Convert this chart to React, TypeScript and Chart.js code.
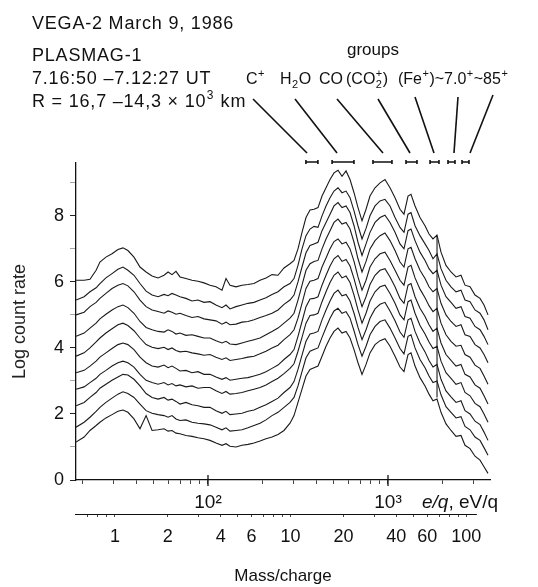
import React, { useEffect, useRef } from 'react';
import { Chart, registerables } from 'chart.js';
Chart.register(...registerables);

const FONT = '"Liberation Sans", Arial, Helvetica, sans-serif';

// e/q sample positions (eV/q)
const energy = [18.5, 20.5, 22.1, 23.9, 25.1, 27.1, 29.3, 31.6, 33.7, 35.9, 38.8, 41.9, 45.3, 48.9, 52.8, 57.0, 60.0, 63.1, 66.4, 69.9, 75.4, 81.5, 88.0, 95.0, 102.6, 110.8, 119.6, 125.9, 132.5, 143.1, 154.5, 166.8, 180.1, 194.5, 210.0, 226.8, 244.9, 264.4, 285.5, 300.5, 316.2, 332.9, 350.3, 368.7, 388.1, 408.5, 430.0, 452.6, 476.4, 501.2, 527.6, 555.3, 584.6, 615.2, 647.5, 681.3, 717.3, 755.1, 794.3, 847, 903, 962, 1026, 1094, 1166, 1227, 1292, 1342, 1413, 1506, 1606, 1690, 1778, 1872, 1970, 2100, 2239, 2387, 2544, 2678, 2856, 3043, 3245, 3415, 3594];

// Log count rate, spectra stacked from top to bottom
const spectrum1 = [6.05,6.05,6.08,6.35,6.6,6.75,6.85,6.98,7.03,6.95, 6.75,6.45,6.3,6.18,6.12,6.2,6.3,6.22,6.32,6.15, 6.1,6.05,6.02,5.97,5.9,5.85,5.75,6.1,5.9,5.85, 5.9,5.92,5.95,6.05,6.12,6.22,6.2,6.42,6.55,6.65, 7.0,7.5,7.95,8.18,8.2,8.25,8.6,8.85,9.1,9.3, 9.38,9.2,9.36,9.1,8.7,8.25,7.85,8.2,8.6,8.85, 9.0,9.1,8.85,8.55,8.2,8.05,8.6,8.65,8.3,7.95, 7.7,7.45,7.3,7.42,6.9,6.5,6.3,6.15,6.2,5.9, 5.85,5.6,5.5,5.3,5.0];
const spectrum2 = [5.45,5.55,5.7,5.82,5.95,6.12,6.25,6.38,6.45,6.35, 6.2,5.95,5.72,5.6,5.55,5.62,5.58,5.65,5.6,5.55, 5.5,5.42,5.45,5.38,5.4,5.3,5.22,5.3,5.18,5.25, 5.3,5.35,5.38,5.45,5.52,5.62,5.7,5.85,5.95,6.1, 6.5,7.0,7.4,7.6,7.68,7.65,8.0,8.3,8.55,8.75, 8.85,8.7,8.75,8.55,8.15,7.7,7.3,7.62,8.0,8.3, 8.45,8.5,8.3,7.95,7.65,7.5,8.05,8.1,7.7,7.4, 7.15,6.95,6.7,6.85,6.4,6.05,5.85,5.7,5.75,5.45, 5.4,5.15,5.05,4.85,4.55];
const spectrum3 = [5.0,5.08,5.25,5.38,5.5,5.65,5.8,5.9,5.95,5.88, 5.7,5.45,5.25,5.15,5.1,5.05,5.12,5.08,5.02,5.05, 4.98,4.92,4.95,4.88,4.85,4.82,4.72,4.78,4.7,4.72, 4.78,4.8,4.85,4.92,4.98,5.05,5.15,5.32,5.45,5.6, 6.0,6.45,6.88,7.1,7.15,7.2,7.55,7.8,8.05,8.3, 8.4,8.25,8.3,8.1,7.7,7.2,6.8,7.15,7.5,7.8, 7.95,8.02,7.8,7.5,7.15,7.0,7.55,7.6,7.25,6.9, 6.65,6.4,6.25,6.35,5.9,5.55,5.38,5.2,5.25,4.95, 4.9,4.65,4.55,4.35,4.1];
const spectrum4 = [4.35,4.45,4.6,4.75,4.88,5.02,5.15,5.25,5.3,5.22, 5.05,4.8,4.62,4.55,4.5,4.48,4.55,4.5,4.42,4.45, 4.38,4.4,4.35,4.3,4.3,4.22,4.15,4.2,4.12,4.1, 4.15,4.2,4.25,4.3,4.4,4.5,4.6,4.75,4.9,5.05, 5.45,5.9,6.35,6.55,6.62,6.65,7.0,7.3,7.55,7.8, 7.9,7.75,7.8,7.6,7.2,6.7,6.3,6.62,7.0,7.25, 7.4,7.48,7.25,6.95,6.6,6.45,7.0,7.05,6.7,6.35, 6.1,5.85,5.7,5.8,5.35,5.0,4.8,4.65,4.7,4.4, 4.35,4.1,4.0,3.8,3.55];
const spectrum5 = [3.75,3.85,4.0,4.18,4.3,4.45,4.58,4.7,4.75,4.68, 4.52,4.3,4.1,4.02,3.98,4.02,3.95,4.0,3.92,3.88, 3.9,3.85,3.82,3.78,3.8,3.72,3.65,3.7,3.62,3.65, 3.68,3.72,3.75,3.82,3.9,4.0,4.08,4.25,4.4,4.55, 4.9,5.35,5.8,6.02,6.05,6.1,6.45,6.72,7.0,7.22, 7.3,7.15,7.2,7.0,6.62,6.15,5.75,6.05,6.45,6.7, 6.85,6.9,6.65,6.35,6.05,5.9,6.45,6.5,6.12,5.78, 5.52,5.28,5.1,5.2,4.75,4.4,4.2,4.05,4.08,3.8, 3.72,3.48,3.38,3.15,2.9];
const spectrum6 = [3.25,3.32,3.45,3.6,3.72,3.85,3.98,4.1,4.15,4.1, 3.95,3.72,3.55,3.45,3.42,3.48,3.4,3.45,3.38,3.3, 3.32,3.25,3.28,3.2,3.2,3.12,3.05,3.1,3.02,3.05, 3.08,3.1,3.15,3.2,3.28,3.38,3.48,3.65,3.8,3.95, 4.35,4.8,5.25,5.48,5.5,5.55,5.9,6.2,6.48,6.7, 6.8,6.62,6.68,6.48,6.1,5.65,5.25,5.55,5.92,6.2, 6.35,6.4,6.15,5.85,5.5,5.35,5.9,5.95,5.55,5.2, 4.95,4.7,4.5,4.6,4.15,3.8,3.62,3.45,3.5,3.2, 3.12,2.88,2.78,2.55,2.3];
const spectrum7 = [2.75,2.82,2.95,3.08,3.2,3.32,3.45,3.55,3.6,3.55, 3.42,3.2,3.02,2.95,2.9,2.95,2.88,2.92,2.85,2.88, 2.82,2.85,2.78,2.8,2.8,2.7,2.62,2.68,2.6,2.62, 2.65,2.7,2.75,2.8,2.88,2.98,3.08,3.22,3.38,3.52, 3.9,4.32,4.75,4.98,5.0,5.05,5.4,5.7,5.98,6.2, 6.3,6.12,6.18,5.98,5.6,5.15,4.75,5.05,5.42,5.7, 5.85,5.9,5.65,5.35,5.0,4.85,5.4,5.45,5.05,4.68, 4.42,4.18,3.98,4.05,3.6,3.25,3.08,2.9,2.95,2.65, 2.55,2.32,2.22,2.0,1.75];
const spectrum8 = [2.25,2.35,2.5,2.65,2.78,2.9,3.02,3.12,3.2,3.18, 3.05,2.85,2.62,2.5,2.45,2.5,2.42,2.45,2.38,2.3, 2.35,2.28,2.25,2.2,2.2,2.1,2.02,2.08,1.98,2.0, 2.02,2.08,2.12,2.2,2.28,2.38,2.48,2.65,2.8,2.98, 3.35,3.78,4.2,4.42,4.45,4.5,4.85,5.15,5.42,5.65, 5.75,5.58,5.62,5.42,5.05,4.62,4.25,4.55,4.9,5.18, 5.32,5.38,5.12,4.82,4.48,4.32,4.85,4.9,4.5,4.15, 3.88,3.62,3.42,3.5,3.05,2.7,2.52,2.35,2.4,2.1, 2.0,1.78,1.68,1.45,1.2];
const spectrum9 = [1.6,1.75,1.9,2.08,2.2,2.35,2.48,2.6,2.67,2.62, 2.5,2.3,2.1,2.02,1.98,1.95,1.9,1.95,1.85,1.8, 1.82,1.75,1.72,1.7,1.67,1.6,1.52,1.58,1.48,1.5, 1.52,1.58,1.65,1.72,1.82,1.95,2.05,2.2,2.35,2.5, 2.85,3.28,3.7,3.9,3.95,4.0,4.32,4.62,4.9,5.12, 5.2,5.05,5.1,4.9,4.52,4.1,3.75,4.05,4.4,4.65, 4.8,4.85,4.6,4.3,3.98,3.82,4.35,4.4,4.0,3.65, 3.4,3.15,2.95,3.0,2.58,2.22,2.05,1.88,1.92,1.62, 1.52,1.3,1.2,0.98,0.75];
const spectrum10 = [1.15,1.3,1.5,1.65,1.75,1.88,1.98,2.08,2.12,2.05, 1.85,1.55,1.95,1.5,1.52,1.55,1.48,1.5,1.42,1.4, 1.35,1.32,1.28,1.25,1.2,1.12,1.05,1.1,1.02,1.0, 1.05,1.08,1.12,1.18,1.25,1.3,1.38,1.5,1.72,1.95, 2.35,2.75,3.15,3.35,3.4,3.45,3.75,4.05,4.3,4.5, 4.6,4.45,4.5,4.3,3.95,3.55,3.2,3.5,3.85,4.1, 4.22,4.28,4.05,3.75,3.42,3.28,3.8,3.85,3.45,3.1, 2.85,2.6,2.4,2.45,2.05,1.7,1.5,1.32,1.35,1.05, 0.95,0.72,0.6,0.4,0.2];
const spectra = [spectrum1, spectrum2, spectrum3, spectrum4, spectrum5, spectrum6, spectrum7, spectrum8, spectrum9, spectrum10];

// vertical pen stroke near 1.9 keV
const strokeEnergy = [1872, 1872];
const strokeValues = [7.36, 2.5];

// axes
const yTicks = [0, 1, 2, 3, 4, 5, 6, 7, 8, 9];
const yLabels = ['0', '', '2', '', '4', '', '6', '', '8', ''];
const eTicks = [20, 30, 40, 50, 60, 70, 80, 90, 100, 200, 300, 400, 500, 600, 700, 800, 900, 1000, 2000, 3000];
const eMajor = [100, 1000];
const eLabels = ['10\u00B2', '10\u00B3'];
const mTicks = [0.7, 0.8, 0.9, 1, 2, 3, 4, 5, 6, 7, 8, 9, 10, 20, 30, 40, 50, 60, 70, 80, 90, 100];
const mLabeled = [1, 2, 4, 6, 10, 20, 40, 60, 100];
const mAxisEnd = 115;

// ion groups (e/q ranges of bars, and where the pointer lines meet them)
const groupLow = [350, 489, 825, 1259, 1712, 2154, 2577];
const groupHigh = [408, 647, 1052, 1449, 1920, 2356, 2818];
const groupPointer = [355, 521, 938, 1325, 1801, 2326, 2856];

type Run = [string, string];

function drawRuns(ctx: CanvasRenderingContext2D, x: number, base: number, runs: Run[], size: number) {
  let cx = x;
  for (const [txt, mode] of runs) {
    if (mode === 'n') {
      ctx.font = `${size}px ${FONT}`;
      ctx.fillText(txt, cx, base);
      cx += ctx.measureText(txt).width;
    } else if (mode === 'sup') {
      ctx.font = `${Math.round(size * 0.68)}px ${FONT}`;
      ctx.fillText(txt, cx + 0.5, base - size * 0.42);
      cx += ctx.measureText(txt).width + 1;
    } else if (mode === 'sub') {
      ctx.font = `${Math.round(size * 0.68)}px ${FONT}`;
      ctx.fillText(txt, cx + 0.5, base + size * 0.28);
      cx += ctx.measureText(txt).width + 1;
    } else if (mode === 'supsub') {
      const [sp, sb] = txt.split('|');
      ctx.font = `${Math.round(size * 0.68)}px ${FONT}`;
      ctx.fillText(sp, cx + 0.5, base - size * 0.42);
      ctx.fillText(sb, cx + 0.5, base + size * 0.28);
      cx += Math.max(ctx.measureText(sp).width, ctx.measureText(sb).width) + 1;
    } else if (mode === 'i') {
      ctx.font = `italic ${size}px ${FONT}`;
      ctx.fillText(txt, cx, base);
      cx += ctx.measureText(txt).width;
    }
  }
}

const decorPlugin = {
  id: 'decor',
  afterDraw(chart: any) {
    const { ctx, chartArea, scales } = chart;
    const xs = scales.x;
    const ms = scales.x2;
    ctx.save();
    ctx.fillStyle = '#111';
    ctx.strokeStyle = '#111';
    ctx.textAlign = 'left';
    ctx.textBaseline = 'alphabetic';

    // header block
    (ctx as any).letterSpacing = '0.8px';
    drawRuns(ctx, 32, 29, [['VEGA-2 March 9, 1986', 'n']], 18);
    drawRuns(ctx, 32, 61, [['PLASMAG-1', 'n']], 18);
    drawRuns(ctx, 32, 84, [['7.16:50 \u20137.12:27 UT', 'n']], 18);
    drawRuns(ctx, 32, 107, [['R = 16,7 \u201314,3 \u00D7 10', 'n'], ['3', 'sup'], [' km', 'n']], 18);
    (ctx as any).letterSpacing = '0px';

    // groups
    drawRuns(ctx, 347, 55, [['groups', 'n']], 17);
    drawRuns(ctx, 246, 84, [['C', 'n'], ['+', 'sup']], 16);
    drawRuns(ctx, 280, 84, [['H', 'n'], ['2', 'sub'], ['O', 'n']], 16);
    drawRuns(ctx, 319, 84, [['CO', 'n']], 16);
    drawRuns(ctx, 346, 84, [['(CO', 'n'], ['+|2', 'supsub'], [')', 'n']], 16);
    drawRuns(ctx, 398, 84, [['(Fe', 'n'], ['+', 'sup'], [')~7.0', 'n'], ['+', 'sup'], ['~85', 'n'], ['+', 'sup']], 16);

    const anchors = [[253, 99], [295, 99], [337, 99], [378, 99], [415, 97], [458, 97], [493, 95]];
    const barY = chartArea.top - 1;
    ctx.lineWidth = 1.6;
    for (let i = 0; i < groupLow.length; i++) {
      const px = xs.getPixelForValue(groupPointer[i]);
      ctx.beginPath();
      ctx.moveTo(anchors[i][0], anchors[i][1]);
      ctx.lineTo(px, barY - 9);
      ctx.stroke();
      const a = xs.getPixelForValue(groupLow[i]);
      const b = xs.getPixelForValue(groupHigh[i]);
      ctx.beginPath();
      ctx.moveTo(a, barY);
      ctx.lineTo(b, barY);
      ctx.moveTo(a, barY - 2);
      ctx.lineTo(a, barY + 2);
      ctx.moveTo(b, barY - 2);
      ctx.lineTo(b, barY + 2);
      ctx.stroke();
    }

    // major ticks crossing the energy axis
    ctx.lineWidth = 1.3;
    for (const v of eMajor) {
      const px = xs.getPixelForValue(v);
      ctx.beginPath();
      ctx.moveTo(px, chartArea.bottom - 5);
      ctx.lineTo(px, chartArea.bottom + 6);
      ctx.stroke();
    }

    // mass/charge axis line (ends short of the energy axis)
    ctx.lineWidth = 1.2;
    ctx.beginPath();
    ctx.moveTo(ms.left - 1, ms.top + 0.5);
    ctx.lineTo(ms.getPixelForValue(mAxisEnd), ms.top + 0.5);
    ctx.stroke();

    // energy axis unit
    drawRuns(ctx, 422, 508, [['e/q', 'i'], [', eV/q', 'n']], 19);
    ctx.restore();
  },
};

export default function App() {
  const ref = useRef<HTMLCanvasElement | null>(null);
  useEffect(() => {
    if (!ref.current) return;
    const datasets: any[] = spectra.map((s, k) => ({
      label: `spectrum ${k + 1}`,
      data: energy.map((e, i) => ({ x: e, y: s[i] })),
      borderColor: '#1a1a1a',
      borderWidth: 1.1,
      pointRadius: 0,
      tension: 0,
      fill: false,
    }));
    datasets.push({
      label: 'stroke',
      data: strokeEnergy.map((e, i) => ({ x: e, y: strokeValues[i] })),
      borderColor: '#1a1a1a',
      borderWidth: 1.1,
      pointRadius: 0,
      fill: false,
    });
    const chart = new Chart(ref.current, {
      type: 'line',
      data: { datasets },
      plugins: [decorPlugin],
      options: {
        animation: false,
        responsive: false,
        devicePixelRatio: 1,
        layout: { padding: { top: 163, right: 48, bottom: 0, left: 0 } },
        plugins: { legend: { display: false }, tooltip: { enabled: false }, title: { display: false } },
        scales: {
          x: {
            type: 'logarithmic',
            position: 'bottom',
            weight: 0,
            min: 18.48,
            max: 3687,
            afterBuildTicks: (s: any) => { s.ticks = eTicks.map((v) => ({ value: v, major: eMajor.includes(v) })); },
            afterFit: (s: any) => { s.height = 34; },
            grid: { display: true, drawOnChartArea: false, drawTicks: true, tickLength: 4, tickColor: '#444', tickWidth: 1 },
            border: { display: true, color: '#111', width: 1.3 },
            ticks: {
              autoSkip: false, maxRotation: 0, minRotation: 0, padding: 7, color: '#111',
              font: { family: FONT, size: 19 },
              callback: (v: any) => { const i = eMajor.indexOf(Number(v)); return i >= 0 ? eLabels[i] : ''; },
            },
          },
          x2: {
            type: 'logarithmic',
            position: 'bottom',
            weight: 1,
            min: 0.626,
            max: 136.6,
            afterBuildTicks: (s: any) => { s.ticks = mTicks.map((v) => ({ value: v })); },
            afterFit: (s: any) => { s.height = 73; },
            grid: { display: true, drawOnChartArea: false, drawTicks: true, tickLength: 3, tickColor: '#444', tickWidth: 1 },
            border: { display: false },
            ticks: {
              autoSkip: false, maxRotation: 0, minRotation: 0, padding: 9, color: '#111',
              font: { family: FONT, size: 18 },
              callback: (v: any) => (mLabeled.includes(Number(v)) ? String(v) : ''),
            },
            title: { display: true, text: 'Mass/charge', color: '#111', font: { family: FONT, size: 17 }, padding: { top: 0, bottom: 0 } },
          },
          y: {
            type: 'linear',
            min: 0,
            max: 9.6,
            afterBuildTicks: (s: any) => { s.ticks = yTicks.map((v) => ({ value: v })); },
            afterFit: (s: any) => { s.width = 76; },
            grid: {
              display: true, drawOnChartArea: false, drawTicks: true, tickLength: 6, tickWidth: 1,
              tickColor: (c: any) => (c.tick && c.tick.value % 2 ? 'rgba(0,0,0,0.35)' : '#222'),
            },
            border: { display: true, color: '#111', width: 1.3 },
            ticks: {
              padding: 6, color: '#111', font: { family: FONT, size: 18 },
              callback: (v: any) => { const i = yTicks.indexOf(Number(v)); return i >= 0 ? yLabels[i] : ''; },
            },
            title: { display: true, text: 'Log count rate', color: '#222', font: { family: FONT, size: 18 }, padding: { top: 9, bottom: 0 } },
          },
        },
      } as any,
    });
    return () => chart.destroy();
  }, []);
  return (
    <div style={{ position: 'absolute', left: 0, top: 0, width: 538, height: 587, background: '#fff' }}>
      <canvas ref={ref} width={538} height={587} style={{ display: 'block', width: 538, height: 587 }} />
    </div>
  );
}
